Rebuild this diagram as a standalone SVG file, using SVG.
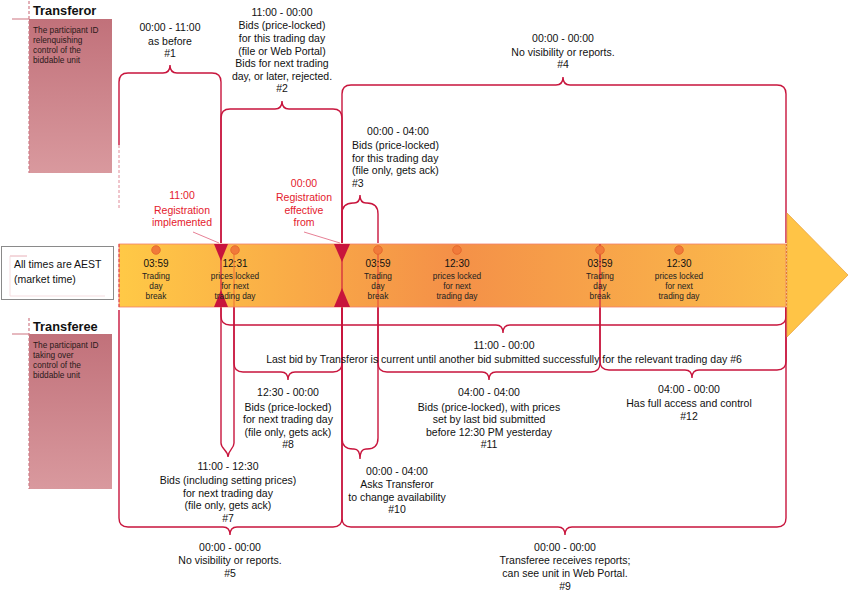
<svg xmlns="http://www.w3.org/2000/svg" width="850" height="597" viewBox="0 0 850 597">
<defs>
<linearGradient id="band" x1="119" y1="0" x2="786" y2="0" gradientUnits="userSpaceOnUse">
<stop offset="0" stop-color="#FFC946"/>
<stop offset="0.5" stop-color="#F49048"/>
<stop offset="1" stop-color="#FBBC4B"/>
</linearGradient>
<linearGradient id="role" x1="0" y1="0" x2="0" y2="1">
<stop offset="0" stop-color="#C1717A"/>
<stop offset="1" stop-color="#D9999E"/>
</linearGradient>
<style>
.t{font-family:"Liberation Sans",Arial,sans-serif;font-size:10.5px;fill:#111;text-anchor:middle}
.s{text-anchor:start}
.red{fill:#E4202C}
.bt{font-family:"Liberation Sans",Arial,sans-serif;font-size:10px;fill:#111;text-anchor:middle}
.bd{font-family:"Liberation Sans",Arial,sans-serif;font-size:8.3px;fill:#222;text-anchor:middle}
.hd{font-family:"Liberation Sans",Arial,sans-serif;font-size:12.8px;font-weight:bold;fill:#111}
.rt{font-family:"Liberation Sans",Arial,sans-serif;font-size:8.3px;fill:#2a1a1a}
.br{fill:none;stroke:#C8153D;stroke-width:1.4}
.ml{stroke-width:1.2}
.dot{fill:#F07A3A;stroke:#E2622A;stroke-width:0.8}
.tri{fill:#C8143C}
</style>
</defs>

<g id="transferor">
<line x1="12" y1="19" x2="29" y2="19" stroke="#D58A95" stroke-width="1.2"/>
<rect x="29" y="19" width="83" height="154" fill="url(#role)"/>
<line x1="29" y1="1" x2="29" y2="173" stroke="#D07C88" stroke-width="1.2" stroke-dasharray="3,2"/>
<text class="hd" x="33" y="15">Transferor</text>
<text class="rt" x="33" y="33">The participant ID</text>
<text class="rt" x="33" y="43">relenquishing</text>
<text class="rt" x="33" y="53">control of the</text>
<text class="rt" x="33" y="63">biddable unit</text>
</g>

<g id="transferee">
<line x1="12" y1="334" x2="29" y2="334" stroke="#D58A95" stroke-width="1.2"/>
<rect x="29" y="334" width="83" height="155" fill="url(#role)"/>
<line x1="29" y1="318" x2="29" y2="489" stroke="#D07C88" stroke-width="1.2" stroke-dasharray="3,2"/>
<text class="hd" x="33" y="331">Transferee</text>
<text class="rt" x="33" y="348">The participant ID</text>
<text class="rt" x="33" y="358">taking over</text>
<text class="rt" x="33" y="368">control of the</text>
<text class="rt" x="33" y="378">biddable unit</text>
</g>

<g id="timezone-note">
<rect x="1.5" y="246.5" width="112" height="53" fill="#fff" stroke="#8a8a8a" stroke-width="1"/>
<path d="M10,256 H27" stroke="#E8B0B8" stroke-width="1" fill="none"/>
<path d="M10,256 V296 H105" stroke="#F2D4D8" stroke-width="0.8" fill="none"/>
<text class="t s" x="14" y="268">All times are AEST</text>
<text class="t s" x="14" y="283">(market time)</text>
</g>

<g id="connectors">
<path class="br" d="M119,145 V82 Q119,73 128,73 H163 C168,73 170,70 170,65 C170,70 172,73 177,73 H212 Q221,73 221,82 V243"/>
<line x1="119" y1="145" x2="119" y2="210" stroke="#E08A98" stroke-width="1" stroke-dasharray="3,2"/>
<path class="br" d="M221,243 V118 Q221,109 230,109 H275 C280,109 282,106 282,101 C282,106 284,109 289,109 H333 Q342,109 342,118 V243"/>
<path class="br" d="M342,243 V94 Q342,85 351,85 H556 C561,85 563,82 563,77 C563,82 565,85 570,85 H777 Q786,85 786,94 V243"/>
<path class="br" d="M342,243 V214 Q342,203 353,203 H354 C358,203 360,200 360,195 C360,200 362,203 366,203 H367 Q378,203 378,214 V243"/>
<path class="br" d="M221,307 V316 Q221,325 230,325 H496 C501,325 503,328 503,333 C503,328 505,325 510,325 H777 Q786,325 786,316 V307"/>
<path class="br" d="M234,307 V363 Q234,372 243,372 H281 C286,372 288,375 288,380 C288,375 290,372 295,372 H333 Q342,372 342,363 V307"/>
<path class="br" d="M378,307 V363 Q378,372 387,372 H482 C487,372 489,375 489,380 C489,375 491,372 496,372 H591 Q600,372 600,363 V307"/>
<path class="br" d="M600,307 V361 Q600,370 609,370 H685 C690,370 692,373 692,378 C692,373 694,370 699,370 H777 Q786,370 786,361 V307"/>
<path class="br" d="M221,307 V443 C221,449 228,450 228,457 C228,450 234,449 234,443 V307"/>
<path class="br" d="M342,307 V438 Q342,449 353,449 H354 C358,449 360,452 360,459 C360,452 362,449 366,449 H367 Q378,449 378,438 V307"/>
<path class="br" d="M119,310 V518 Q119,527 128,527 H223 C228,527 230,530 230,535 C230,530 232,527 237,527 H333 Q342,527 342,518 V307"/>
<path class="br" d="M342,307 V518 Q342,527 351,527 H558 C563,527 565,530 565,535 C565,530 567,527 572,527 H777 Q786,527 786,518 V307"/>
<line x1="193" y1="232" x2="219" y2="243" stroke="#E0607A" stroke-width="0.8"/>
<line x1="304" y1="232" x2="340" y2="243" stroke="#E0607A" stroke-width="0.8"/>
</g>

<g id="timeline">
<rect x="119" y="244" width="667" height="63" fill="url(#band)" stroke="#F27E6A" stroke-width="0.8"/>
<line x1="119" y1="244" x2="119" y2="307" stroke="#D8283C" stroke-width="0.9" stroke-dasharray="3,2"/>
<polygon points="787,213 848,275 787,337" fill="#FFC446" stroke="#E8A444" stroke-width="0.8"/>
<line x1="786.5" y1="244" x2="786.5" y2="307" stroke="#E07A30" stroke-width="1" stroke-dasharray="2,1.5"/>
<line class="ml" x1="221" y1="244" x2="221" y2="307" stroke="#D0203C"/>
<line class="ml" x1="234" y1="250" x2="234" y2="307" stroke="#F07A3A"/>
<line class="ml" x1="342" y1="244" x2="342" y2="307" stroke="#D0203C"/>
<line class="ml" x1="378" y1="250" x2="378" y2="307" stroke="#E8503A"/>
<line class="ml" x1="600" y1="244" x2="600" y2="307" stroke="#D0203C"/>
<polygon class="tri" points="214,244 228,244 221,261"/>
<polygon class="tri" points="214,307 228,307 221,290"/>
<polygon class="tri" points="334,244 350,244 342,262"/>
<polygon class="tri" points="334,307 350,307 342,288"/>
<circle class="dot" cx="156" cy="250" r="4.3"/>
<circle class="dot" cx="235" cy="250" r="4.3"/>
<circle class="dot" cx="378" cy="250" r="4.3"/>
<circle class="dot" cx="457" cy="250" r="4.3"/>
<circle class="dot" cx="600" cy="250" r="4.3"/>
<circle class="dot" cx="679" cy="250" r="4.3"/>
</g>

<g id="tick-0359-a"><text class="bt" x="156" y="267">03:59</text><text class="bd" x="156" y="279">Trading</text><text class="bd" x="156" y="289">day</text><text class="bd" x="156" y="299">break</text></g>
<g id="tick-1231"><text class="bt" x="235" y="267">12:31</text><text class="bd" x="235" y="279">prices locked</text><text class="bd" x="235" y="289">for next</text><text class="bd" x="235" y="299">trading day</text></g>
<g id="tick-0359-b"><text class="bt" x="378" y="267">03:59</text><text class="bd" x="378" y="279">Trading</text><text class="bd" x="378" y="289">day</text><text class="bd" x="378" y="299">break</text></g>
<g id="tick-1230-a"><text class="bt" x="457" y="267">12:30</text><text class="bd" x="457" y="279">prices locked</text><text class="bd" x="457" y="289">for next</text><text class="bd" x="457" y="299">trading day</text></g>
<g id="tick-0359-c"><text class="bt" x="600" y="267">03:59</text><text class="bd" x="600" y="279">Trading</text><text class="bd" x="600" y="289">day</text><text class="bd" x="600" y="299">break</text></g>
<g id="tick-1230-b"><text class="bt" x="679" y="267">12:30</text><text class="bd" x="679" y="279">prices locked</text><text class="bd" x="679" y="289">for next</text><text class="bd" x="679" y="299">trading day</text></g>

<g id="reg-implemented"><text class="t red" x="182" y="199">11:00</text><text class="t red" x="182" y="214">Registration</text><text class="t red" x="182" y="226">implemented</text></g>
<g id="reg-effective"><text class="t red" x="304" y="187">00:00</text><text class="t red" x="304" y="201">Registration</text><text class="t red" x="304" y="214">effective</text><text class="t red" x="304" y="226">from</text></g>

<g id="n1"><text class="t" x="170" y="31">00:00 - 11:00</text><text class="t" x="170" y="45">as before</text><text class="t" x="170" y="57">#1</text></g>
<g id="n2"><text class="t" x="282" y="15.5">11:00 - 00:00</text><text class="t" x="282" y="29">Bids (price-locked)</text><text class="t" x="282" y="41.5">for this trading day</text><text class="t" x="282" y="54.5">(file or Web Portal)</text><text class="t" x="282" y="67">Bids for next trading</text><text class="t" x="282" y="79.5">day, or later, rejected.</text><text class="t" x="282" y="92">#2</text></g>
<g id="n3"><text class="t" x="398" y="135">00:00 - 04:00</text><text class="t s" x="352" y="149">Bids (price-locked)</text><text class="t s" x="352" y="161.5">for this trading day</text><text class="t s" x="352" y="174">(file only, gets ack)</text><text class="t s" x="352" y="186.5">#3</text></g>
<g id="n4"><text class="t" x="563" y="41.5">00:00 - 00:00</text><text class="t" x="563" y="55.5">No visibility or reports.</text><text class="t" x="563" y="67.5">#4</text></g>
<g id="n6"><text class="t" x="504" y="349">11:00 - 00:00</text><text class="t" x="504" y="363">Last bid by Transferor is current until another bid submitted successfully for the relevant trading day #6</text></g>
<g id="n8"><text class="t" x="288" y="396">12:30 - 00:00</text><text class="t" x="288" y="410.5">Bids (price-locked)</text><text class="t" x="288" y="423">for next trading day</text><text class="t" x="288" y="435.5">(file only, gets ack)</text><text class="t" x="288" y="448">#8</text></g>
<g id="n11"><text class="t" x="489" y="396">04:00 - 04:00</text><text class="t" x="489" y="410.5">Bids (price-locked), with prices</text><text class="t" x="489" y="423">set by last bid submitted</text><text class="t" x="489" y="435.5">before 12:30 PM yesterday</text><text class="t" x="489" y="448">#11</text></g>
<g id="n12"><text class="t" x="689" y="393">04:00 - 00:00</text><text class="t" x="689" y="407">Has full access and control</text><text class="t" x="689" y="419.5">#12</text></g>
<g id="n7"><text class="t" x="228" y="470">11:00 - 12:30</text><text class="t" x="228" y="484">Bids (including setting prices)</text><text class="t" x="228" y="496.5">for next trading day</text><text class="t" x="228" y="509">(file only, gets ack)</text><text class="t" x="228" y="522">#7</text></g>
<g id="n10"><text class="t" x="397" y="474.5">00:00 - 04:00</text><text class="t" x="397" y="488">Asks Transferor</text><text class="t" x="397" y="500.5">to change availability</text><text class="t" x="397" y="513">#10</text></g>
<g id="n5"><text class="t" x="230" y="551">00:00 - 00:00</text><text class="t" x="230" y="564">No visibility or reports.</text><text class="t" x="230" y="577">#5</text></g>
<g id="n9"><text class="t" x="565" y="551">00:00 - 00:00</text><text class="t" x="565" y="564">Transferee receives reports;</text><text class="t" x="565" y="577">can see unit in Web Portal.</text><text class="t" x="565" y="589.5">#9</text></g>
</svg>
